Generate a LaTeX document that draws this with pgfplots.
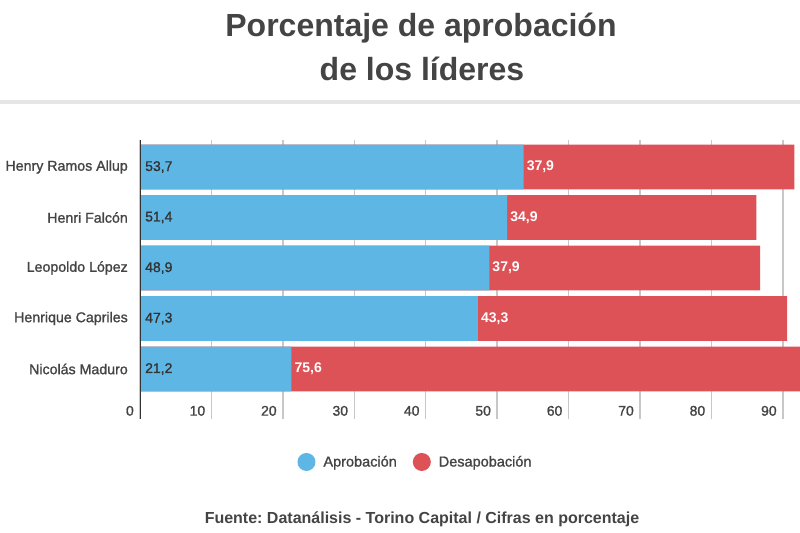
\documentclass[border=0pt]{standalone}
\usepackage{pgfplots}
\pgfplotsset{compat=1.18}
\usepackage{pgfplotstable}
\usepackage{fontspec}
\setmainfont{Liberation Sans}
\newfontfamily\med[FakeBold=1.2]{Liberation Sans}
\frenchspacing
\definecolor{blueC}{HTML}{5EB6E4}
\definecolor{redC}{HTML}{DC5257}
\definecolor{txt}{HTML}{444444}
\definecolor{axC}{HTML}{333333}
\definecolor{gridC}{HTML}{C8C8C8}
\definecolor{ruleC}{HTML}{E6E6E6}

% y: 4 = top (Henry Ramos Allup) ... 0 = bottom (Nicolas Maduro)
\pgfplotstableread{
y z tot apr dis
4 0 91.6 53.7 37.9
3 0 86.3 51.4 34.9
2 0 86.8 48.9 37.9
1 0 90.6 47.3 43.3
0 0 96.8 21.2 75.6
}\data

\begin{document}
\begin{tikzpicture}
\useasboundingbox (0bp,0bp) rectangle (800bp,533bp);
\fill[white] (0bp,0bp) rectangle (800bp,533bp);
\node[font=\fontsize{32bp}{36bp}\selectfont\bfseries, text=txt, anchor=base, inner sep=0pt] at (421bp,496bp) {Porcentaje de aprobación};
\node[font=\fontsize{32bp}{36bp}\selectfont\bfseries, text=txt, anchor=base, inner sep=0pt] at (422bp,452bp) {de los líderes};
\fill[ruleC] (0bp,429bp) rectangle (800bp,433bp);
\node[font=\fontsize{16bp}{18bp}\selectfont\bfseries, text=txt, anchor=base, inner sep=0pt] at (422bp,10bp) {Fuente: Datanálisis - Torino Capital / Cifras en porcentaje};
\begin{axis}[
  at={(140bp,114bp)}, anchor=south west,
  width=660bp, height=279bp, scale only axis,
  xmin=0, xmax=92.4, ymin=-0.99, ymax=4.535,
  xtick={0,10,...,90},
  ytick={0,1,2,3,4},
  yticklabels={Nicolás Maduro, Henrique Capriles, Leopoldo López, Henri Falcón, Henry Ramos Allup},
  xmajorgrids, major grid style={gridC, line width=1.3bp},
  axis line style={draw=none}, tick style={draw=none},
  /pgf/number format/assume math mode=true,
  xticklabel style={anchor=south east, inner sep=0pt, xshift=-6bp, yshift=3bp, font=\med\fontsize{14bp}{16bp}\selectfont, text=txt},
  yticklabel style={anchor=east, inner sep=0pt, xshift=-12bp, font=\med\fontsize{14.2bp}{16bp}\selectfont, text=txt},
  legend columns=2,
  legend style={draw=none, fill=none, at={(axis description cs:0.4174,-0.154)}, anchor=center,
    font=\med\fontsize{14.5bp}{17bp}\selectfont, text=txt,
    /tikz/every even column/.append style={column sep=14bp}},
  legend image code/.code={\fill[#1] (9bp,0bp) circle (9bp); \path (24bp,0bp);},
  legend cell align=left,
]
\addplot[xbar, bar width=0.89, bar shift=0pt, fill=redC, draw=none, forget plot] table[x=tot, y=y] \data;
\addplot[xbar, bar width=0.89, bar shift=0pt, fill=blueC, draw=none, forget plot] table[x=apr, y=y] \data;
\addplot[only marks, mark=text, text mark={}, forget plot,
  point meta=explicit,
  nodes near coords={\pgfmathprintnumber[fixed, fixed zerofill, precision=1, use comma]{\pgfplotspointmeta}},
  nodes near coords style={anchor=west, inner sep=0pt, xshift=5bp, font=\med\fontsize{14bp}{16bp}\selectfont, text=axC}]
  table[x=z, y=y, meta=apr] \data;
\addplot[only marks, mark=text, text mark={}, forget plot,
  point meta=explicit,
  nodes near coords={\pgfmathprintnumber[fixed, fixed zerofill, precision=1, use comma]{\pgfplotspointmeta}},
  nodes near coords style={anchor=west, inner sep=0pt, xshift=3bp, font=\fontsize{14bp}{16bp}\selectfont\bfseries, text=white}]
  table[x=apr, y=y, meta=dis] \data;
\draw[axC, line width=2bp] (axis cs:0,-0.99) -- (axis cs:0,4.535);
\addlegendimage{fill=blueC, draw=none}
\addlegendentry{Aprobación}
\addlegendimage{fill=redC, draw=none}
\addlegendentry{Desapobación}
\end{axis}
\end{tikzpicture}
\end{document}
